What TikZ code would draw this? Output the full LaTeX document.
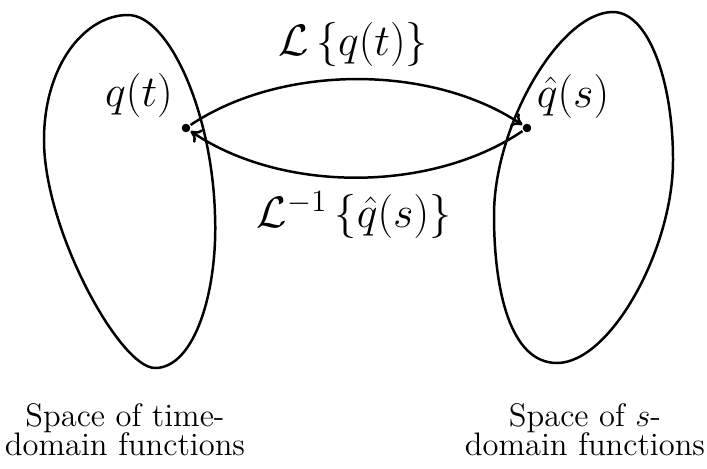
\documentclass[tikz,border=0pt]{standalone}
\usepackage{fix-cm}
\usepackage{amsmath}
\usetikzlibrary{arrows.meta}
\newcommand{\spacefont}{\fontsize{14.4}{13}\selectfont\lineskiplimit=-10pt\relax}

\begin{document}
\begin{tikzpicture}[x=0.4425pt, y=-0.4425pt, line width=1.1pt,
  dot/.style={circle, fill, inner sep=0pt, minimum size=3.8pt},
  mathlbl/.style={font=\fontsize{19.5}{23}\selectfont},
  spacelbl/.style={align=center, font=\spacefont},
  maps/.style={-{Computer Modern Rightarrow[length=4.5pt,width=7pt]}}]
\useasboundingbox (0,0) rectangle (707,468);
\node[dot] (qt) at (186,128) {};
\node[dot] (qs) at (527,128) {};
\node[mathlbl] (qtlbl) at (139,95) {$q(t)$};
\node[mathlbl] (qslbl) at (573,96) {$\hat{q}(s)$};
\node[mathlbl] (fwd) at (353,44) {$\mathcal{L}\left\{q(t)\right\}$};
\node[mathlbl] (inv) at (354,215) {$\mathcal{L}^{-1}\left\{\hat{q}(s)\right\}$};
\node[spacelbl] (tspace) at (125,430) {Space of time-\\domain functions};
\node[spacelbl] (sspace) at (585,430) {Space of $s$-\\domain functions};
% the two function spaces
\draw (128,15) .. controls (85,15) and (44,65) .. (44,140)
  .. controls (44,230) and (120,368) .. (155,368)
  .. controls (195,368) and (218,290) .. (215,215)
  .. controls (212,110) and (168,15) .. cycle;
\draw (613,12) .. controls (648,12) and (673,80) .. (673,160)
  .. controls (673,250) and (610,363) .. (557,363)
  .. controls (510,363) and (494,290) .. (494,215)
  .. controls (494,125) and (560,12) .. cycle;
% transform and inverse
\draw[maps] (qt) .. controls (282,64) and (431,64) .. (qs);
\draw[maps] (qs) .. controls (431,193) and (282,193) .. (qt);
\end{tikzpicture}
\end{document}
